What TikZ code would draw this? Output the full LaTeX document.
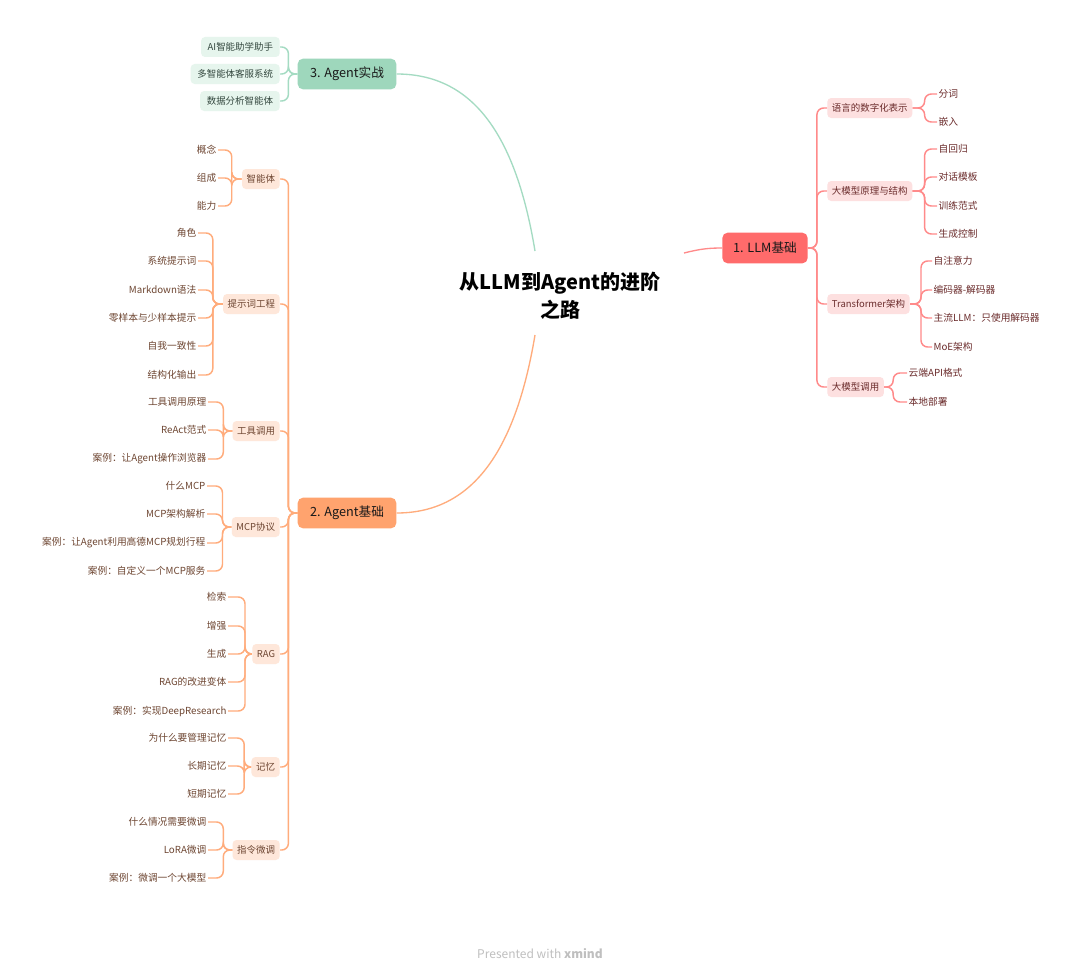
\documentclass[tikz,border=0pt]{standalone}
\usepackage{fontspec}
\setmainfont{Noto Sans CJK SC}
\usetikzlibrary{positioning}

\definecolor{llmmain}{HTML}{FF6B6B}
\definecolor{llmsub}{HTML}{FDE0E0}
\definecolor{llmline}{HTML}{FF8A8A}
\definecolor{llmtext}{HTML}{6B2C2C}
\definecolor{agmain}{HTML}{FFA36E}
\definecolor{agsub}{HTML}{FEE7DA}
\definecolor{agline}{HTML}{FFAC7C}
\definecolor{agtext}{HTML}{6E4632}
\definecolor{prmain}{HTML}{9ED7BC}
\definecolor{prsub}{HTML}{E6F5ED}
\definecolor{prline}{HTML}{A4DBC2}
\definecolor{prtext}{HTML}{34483F}

\tikzset{
  title/.style={font=\fontsize{15}{21}\selectfont\bfseries, align=center, text=black},
  mainbox/.style={rounded corners=4pt, minimum height=23pt, inner xsep=6pt,
    font=\fontsize{9.5}{11}\selectfont, text=black!90},
  subbox/.style={rounded corners=3pt, minimum height=15pt, inner xsep=3.5pt, inner ysep=1pt,
    font=\fontsize{7.1}{8}\selectfont},
  leaf/.style={inner sep=1pt, font=\fontsize{7.3}{8}\selectfont},
  link/.style={line width=1.1pt, rounded corners=5pt},
  lline/.style={link, draw=llmline},
  aline/.style={link, draw=agline},
  pline/.style={link, draw=prline},
}

\begin{document}
\begin{tikzpicture}[x=0.75pt, y=-0.75pt]
  \useasboundingbox[fill=white] (0,0) rectangle (1080,974);

  % 中心主题
  \node[title] (root) at (560,296) {从LLM到Agent的进阶\\之路};
  \coordinate (rootT) at (535,251);
  \coordinate (rootB) at (535,335);
  \coordinate (rootR) at (684,253);

  % 三个分支
  \node[mainbox, fill=llmmain, minimum width=64pt] (llm) at (765,248) {1. LLM基础};
  \node[mainbox, fill=agmain, minimum width=74pt] (agent) at (347,513) {2. Agent基础};
  \node[mainbox, fill=prmain, minimum width=74pt] (prac) at (347,74) {3. Agent实战};

  \draw[lline, line width=1pt] (rootR) .. controls (700,249) and (708,248) .. (llm.west);
  \draw[pline, line width=1pt] (rootT) .. controls (515,130) and (470,74) .. (prac.east);
  \draw[aline, line width=1pt] (rootB) .. controls (515,455) and (470,513) .. (agent.east);

  % 1. LLM基础
  \foreach \t/\y [count=\i] in {语言的数字化表示/108, 大模型原理与结构/191, Transformer架构/304, 大模型调用/387} {
    \node[subbox, fill=llmsub, text=llmtext, anchor=west] (ls\i) at (827,\y) {\t};
    \draw[lline] (llm.east) -- ++(9,0) |- (ls\i.west);
  }
  \foreach \t/\y [count=\i] in {分词/94, 嵌入/122} {
    \node[leaf, text=llmtext, anchor=west] (ls1\i) at (937,\y) {\t};
    \draw[lline] (ls1.east) -- ++(12,0) |- (ls1\i.west);
  }
  \foreach \t/\y [count=\i] in {自回归/149, 对话模板/177, 训练范式/206, 生成控制/234} {
    \node[leaf, text=llmtext, anchor=west] (ls2\i) at (937,\y) {\t};
    \draw[lline] (ls2.east) -- ++(12,0) |- (ls2\i.west);
  }
  \foreach \t/\y [count=\i] in {自注意力/261, 编码器-解码器/290, 主流LLM：只使用解码器/318, MoE架构/347} {
    \node[leaf, text=llmtext, anchor=west] (ls3\i) at (932,\y) {\t};
    \draw[lline] (ls3.east) -- ++(11,0) |- (ls3\i.west);
  }
  \foreach \t/\y [count=\i] in {云端API格式/373, 本地部署/402} {
    \node[leaf, text=llmtext, anchor=west] (ls4\i) at (907,\y) {\t};
    \draw[lline] (ls4.east) -- ++(9,0) |- (ls4\i.west);
  }

  % 3. Agent实战
  \foreach \t/\y [count=\i] in {AI智能助学助手/47, 多智能体客服系统/74, 数据分析智能体/101} {
    \node[subbox, fill=prsub, text=prtext, inner xsep=5pt, anchor=east] (pl\i) at (280,\y) {\t};
    \draw[pline] (prac.west) -- ++(-9,0) |- (pl\i.east);
  }

  % 2. Agent基础
  \foreach \t/\y [count=\i] in {智能体/179, 提示词工程/304, 工具调用/431, MCP协议/527, RAG/654, 记忆/767, 指令微调/850} {
    \node[subbox, fill=agsub, text=agtext, anchor=east] (as\i) at (280,\y) {\t};
    \draw[aline] (agent.west) -- ++(-9,0) |- (as\i.east);
  }
  \foreach \t/\y [count=\i] in {概念/150, 组成/178, 能力/206} {
    \node[leaf, text=agtext, anchor=east] (as1\i) at (218,\y) {\t};
    \draw[aline] (as1.west) -- ++(-10,0) |- (as1\i.east);
  }
  \foreach \t/\y [count=\i] in {角色/233, 系统提示词/261, Markdown语法/290, 零样本与少样本提示/318, 自我一致性/346, 结构化输出/375} {
    \node[leaf, text=agtext, anchor=east] (as2\i) at (198,\y) {\t};
    \draw[aline] (as2.west) -- ++(-10,0) |- (as2\i.east);
  }
  \foreach \t/\y [count=\i] in {工具调用原理/402, ReAct范式/430, 案例：让Agent操作浏览器/459} {
    \node[leaf, text=agtext, anchor=east] (as3\i) at (208,\y) {\t};
    \draw[aline] (as3.west) -- ++(-9,0) |- (as3\i.east);
  }
  \foreach \t/\y [count=\i] in {什么MCP/486, MCP架构解析/514, 案例：让Agent利用高德MCP规划行程/543, 案例：自定义一个MCP服务/571} {
    \node[leaf, text=agtext, anchor=east] (as4\i) at (207,\y) {\t};
    \draw[aline] (as4.west) -- ++(-9,0) |- (as4\i.east);
  }
  \foreach \t/\y [count=\i] in {检索/597, 增强/626, 生成/654, RAG的改进变体/682, 案例：实现DeepResearch/711} {
    \node[leaf, text=agtext, anchor=east] (as5\i) at (228,\y) {\t};
    \draw[aline] (as5.west) -- ++(-7,0) |- (as5\i.east);
  }
  \foreach \t/\y [count=\i] in {为什么要管理记忆/738, 长期记忆/766, 短期记忆/794} {
    \node[leaf, text=agtext, anchor=east] (as6\i) at (228,\y) {\t};
    \draw[aline] (as6.west) -- ++(-7,0) |- (as6\i.east);
  }
  \foreach \t/\y [count=\i] in {什么情况需要微调/822, LoRA微调/850, 案例：微调一个大模型/878} {
    \node[leaf, text=agtext, anchor=east] (as7\i) at (208,\y) {\t};
    \draw[aline] (as7.west) -- ++(-9,0) |- (as7\i.east);
  }

  % 水印
  \node[text=black!25, font=\fontsize{9}{10}\selectfont] (mark) at (540,954) {Presented with \textbf{xmind}};
\end{tikzpicture}
\end{document}
